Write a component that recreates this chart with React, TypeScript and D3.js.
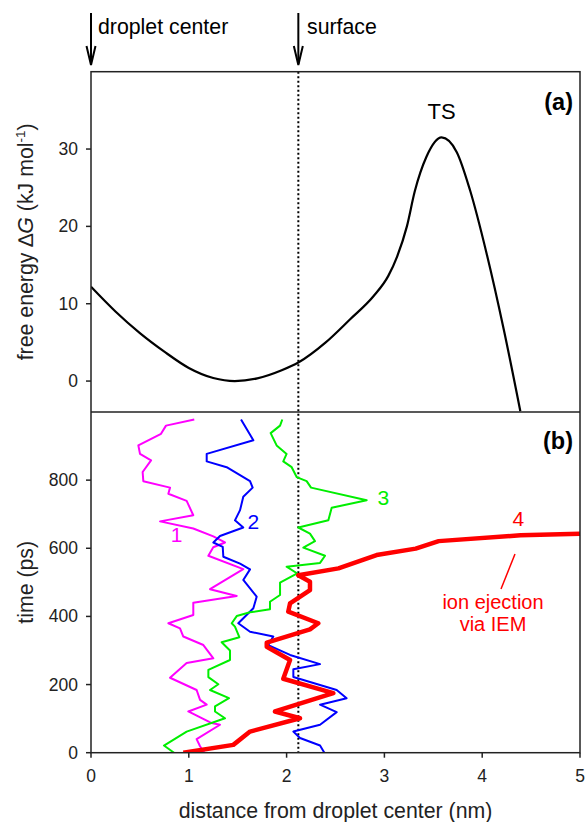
import React from "react";
import * as d3 from "d3";

// ---------- data ----------
// Panel (a): free energy profile [distance nm, ΔG kJ/mol]
const energyProfile: [number, number][] = [
  [0, 12.2], [0.25, 9.0], [0.5, 6.2], [0.75, 3.8], [1.0, 1.7], [1.25, 0.4],
  [1.47, 0], [1.7, 0.35], [1.95, 1.4], [2.12, 2.4], [2.4, 5.0], [2.65, 8.0],
  [2.89, 11.0], [3.04, 13.6], [3.13, 16.1], [3.23, 20.0], [3.31, 24.5],
  [3.43, 29.0], [3.585, 31.5], [3.74, 29.6], [3.875, 24.7], [4.045, 16.5],
  [4.22, 6.7], [4.39, -3.9],
];

// Panel (b): trajectories [distance nm, time ps]
const traj1: [number, number][] = [
  [1.159, 0], [1.115, 19], [1.08, 40], [1.319, 82], [1.234, 87], [0.995, 121],
  [1.183, 141], [1.115, 155], [1.08, 184], [0.808, 220], [0.978, 263], [1.251, 277],
  [1.149, 316], [0.944, 341], [0.91, 365], [0.791, 380], [1.046, 404], [1.046, 440],
  [1.49, 460], [1.217, 480], [1.557, 539], [1.2, 578], [1.25, 603], [1.37, 617],
  [1.251, 635], [1.046, 658], [0.706, 679], [1.046, 697], [0.978, 739], [0.791, 760],
  [0.808, 778], [0.535, 797], [0.528, 824], [0.614, 858], [0.501, 877], [0.484, 902],
  [0.716, 936], [0.767, 960], [1.056, 978],
];
const traj2: [number, number][] = [
  [2.386, 0], [2.342, 21], [2.137, 43], [2.069, 62], [2.342, 82], [2.512, 119],
  [2.342, 141], [2.614, 160], [2.512, 184], [2.069, 222], [2.069, 245], [2.342, 260],
  [2.035, 287], [1.813, 316], [1.864, 341], [1.626, 355], [1.506, 380], [1.66, 424],
  [1.694, 458], [1.557, 507], [1.626, 538], [1.524, 555], [1.353, 575], [1.347, 604],
  [1.251, 617], [1.319, 636], [1.557, 661], [1.472, 682], [1.524, 712], [1.557, 751],
  [1.653, 778], [1.626, 797], [1.387, 838], [1.183, 855], [1.183, 877], [1.66, 917],
  [1.534, 978],
];
const traj3: [number, number][] = [
  [0.849, 0], [0.746, 21], [0.978, 62], [1.37, 101], [1.268, 121], [1.268, 136],
  [1.411, 160], [1.217, 184], [1.302, 201], [1.2, 222], [1.2, 243], [1.421, 272],
  [1.421, 300], [1.336, 324], [1.517, 339], [1.472, 370], [1.439, 380], [1.49, 401],
  [1.626, 412], [1.83, 421], [1.83, 443], [1.933, 463], [1.933, 499], [2.109, 526],
  [2.0, 546], [2.342, 557], [2.393, 578], [2.171, 602], [2.29, 621], [2.239, 643],
  [2.12, 661], [2.427, 682], [2.461, 719], [2.819, 741], [2.25, 778], [2.205, 797],
  [2.103, 809], [2.052, 838], [1.966, 855], [2.0, 877], [1.898, 902], [1.837, 938],
  [1.933, 960], [1.956, 978],
];
const traj4: [number, number][] = [
  [0.944, 0], [1.455, 23], [1.626, 62], [2.137, 101], [1.881, 121], [2.478, 175],
  [1.966, 217], [2.035, 272], [1.797, 311], [1.797, 323], [2.239, 362], [2.324, 380],
  [2.017, 414], [2.035, 438], [2.239, 477], [2.239, 502], [2.12, 521], [2.53, 541],
  [2.92, 580], [3.32, 599], [3.555, 621], [4.39, 638], [5.0, 643],
];

const trajectories = [
  { id: "1", data: traj1, color: "#ff00ff", width: 2, label: [0.875, 640] },
  { id: "2", data: traj2, color: "#0000ff", width: 2, label: [1.66, 680] },
  { id: "3", data: traj3, color: "#00ee00", width: 2, label: [2.99, 750] },
  { id: "4", data: traj4, color: "#ff0000", width: 4.5, label: [4.37, 687] },
];

const xTicks = [0, 1, 2, 3, 4, 5];
const energyTicks = [0, 10, 20, 30];
const timeTicks = [0, 200, 400, 600, 800];
const surfacePos = 2.12;
const tsPos: [number, number] = [3.585, 31.5];

const FONT = "'Liberation Sans', Arial, Helvetica, sans-serif";

export default function App() {
  const left = 91, right = 580;
  const aTop = 71.7, mid = 412, bBottom = 752.7;

  const x = d3.scaleLinear().domain([0, 5]).range([left, right]);
  const yA = d3.scaleLinear().domain([-4, 40]).range([mid, aTop]);
  const yB = d3.scaleLinear().domain([0, 1000]).range([bBottom, mid]);

  const energyLine = d3
    .line<[number, number]>()
    .x((d) => x(d[0]))
    .y((d) => yA(d[1]))
    .curve(d3.curveMonotoneX);

  const trajLine = d3
    .line<[number, number]>()
    .x((d) => x(d[0]))
    .y((d) => yB(d[1]));

  const axisColor = "#222";
  const sx = x(surfacePos);

  const arrow = (ax: number) => (
    <g>
      <line x1={ax} x2={ax} y1={13} y2={64} stroke="#000" strokeWidth={2} />
      <path
        d={`M${ax - 4.5},46 L${ax},65 L${ax + 4.5},46`}
        fill="none"
        stroke="#000"
        strokeWidth={2}
      />
    </g>
  );

  return (
    <svg
      width={587}
      height={822}
      style={{ position: "absolute", left: 0, top: 0, background: "#fff" }}
      fontFamily={FONT}
    >
      <defs>
        <clipPath id="clipA">
          <rect x={left} y={aTop} width={right - left} height={mid - aTop} />
        </clipPath>
        <clipPath id="clipB">
          <rect x={left} y={mid} width={right - left + 2} height={bBottom - mid} />
        </clipPath>
      </defs>

      {/* top arrows */}
      {arrow(x(0))}
      {arrow(sx)}
      <text x={98} y={34} fontSize={21.3} fill="#000">droplet center</text>
      <text x={307} y={34} fontSize={21.3} fill="#000">surface</text>

      {/* surface dotted line */}
      <line
        x1={sx}
        x2={sx}
        y1={aTop}
        y2={bBottom}
        stroke="#000"
        strokeWidth={2}
        strokeDasharray="2,2.5"
      />

      {/* panel a curve */}
      <path
        d={energyLine(energyProfile) || ""}
        fill="none"
        stroke="#000"
        strokeWidth={2.2}
        clipPath="url(#clipA)"
      />
      <text x={x(tsPos[0])} y={119} fontSize={22} textAnchor="middle">TS</text>
      <text x={573} y={110} fontSize={23.5} fontWeight="bold" textAnchor="end">(a)</text>

      {/* panel b trajectories */}
      <g clipPath="url(#clipB)">
        {trajectories.map((t) => (
          <path
            key={t.id}
            d={trajLine(t.data) || ""}
            fill="none"
            stroke={t.color}
            strokeWidth={t.width}
            strokeLinejoin="round"
          />
        ))}
      </g>
      {trajectories.map((t) => (
        <text
          key={"l" + t.id}
          x={x(t.label[0])}
          y={yB(t.label[1]) + 7.5}
          fontSize={21}
          fill={t.color}
          textAnchor="middle"
        >
          {t.id}
        </text>
      ))}
      <text x={573} y={449} fontSize={23.5} fontWeight="bold" textAnchor="end">(b)</text>

      {/* IEM annotation */}
      <line x1={515} y1={554} x2={501} y2={589} stroke="#ff0000" strokeWidth={1.5} />
      <text x={493} y={609} fontSize={20} fill="#ff0000" textAnchor="middle">ion ejection</text>
      <text x={493} y={631} fontSize={20} fill="#ff0000" textAnchor="middle">via IEM</text>

      {/* frames */}
      <rect
        x={left}
        y={aTop}
        width={right - left}
        height={bBottom - aTop}
        fill="none"
        stroke={axisColor}
        strokeWidth={1.5}
      />
      <line x1={left} x2={right} y1={mid} y2={mid} stroke={axisColor} strokeWidth={1.5} />

      {/* panel a y ticks */}
      {energyTicks.map((v) => (
        <g key={"ea" + v}>
          <line x1={left - 5} x2={left} y1={yA(v)} y2={yA(v)} stroke={axisColor} strokeWidth={1.5} />
          <text x={78} y={yA(v) + 6} fontSize={17.5} textAnchor="end" fill="#222">{v}</text>
        </g>
      ))}

      {/* panel b y ticks */}
      {timeTicks.map((v) => (
        <g key={"tb" + v}>
          <line x1={left - 5} x2={left} y1={yB(v)} y2={yB(v)} stroke={axisColor} strokeWidth={1.5} />
          <text x={78} y={yB(v) + 6} fontSize={17.5} textAnchor="end" fill="#222">{v}</text>
        </g>
      ))}

      {/* x ticks */}
      {xTicks.map((v) => (
        <g key={"x" + v}>
          <line x1={x(v)} x2={x(v)} y1={bBottom} y2={bBottom + 5} stroke={axisColor} strokeWidth={1.5} />
          <text x={x(v)} y={782} fontSize={17.5} textAnchor="middle" fill="#222">{v}</text>
        </g>
      ))}

      {/* axis labels */}
      <text
        transform={`translate(33, ${(aTop + mid) / 2}) rotate(-90)`}
        fontSize={21.3}
        textAnchor="middle"
        fill="#222"
      >
        free energy ∆<tspan fontStyle="italic">G</tspan> (kJ mol
        <tspan fontSize={13.5} dy={-8}>-1</tspan>
        <tspan dy={8}>)</tspan>
      </text>
      <text
        transform={`translate(33, ${(mid + bBottom) / 2}) rotate(-90)`}
        fontSize={21.3}
        textAnchor="middle"
        fill="#222"
      >
        time (ps)
      </text>
      <text x={(left + right) / 2} y={818} fontSize={21.3} textAnchor="middle" fill="#222">
        distance from droplet center (nm)
      </text>
    </svg>
  );
}
